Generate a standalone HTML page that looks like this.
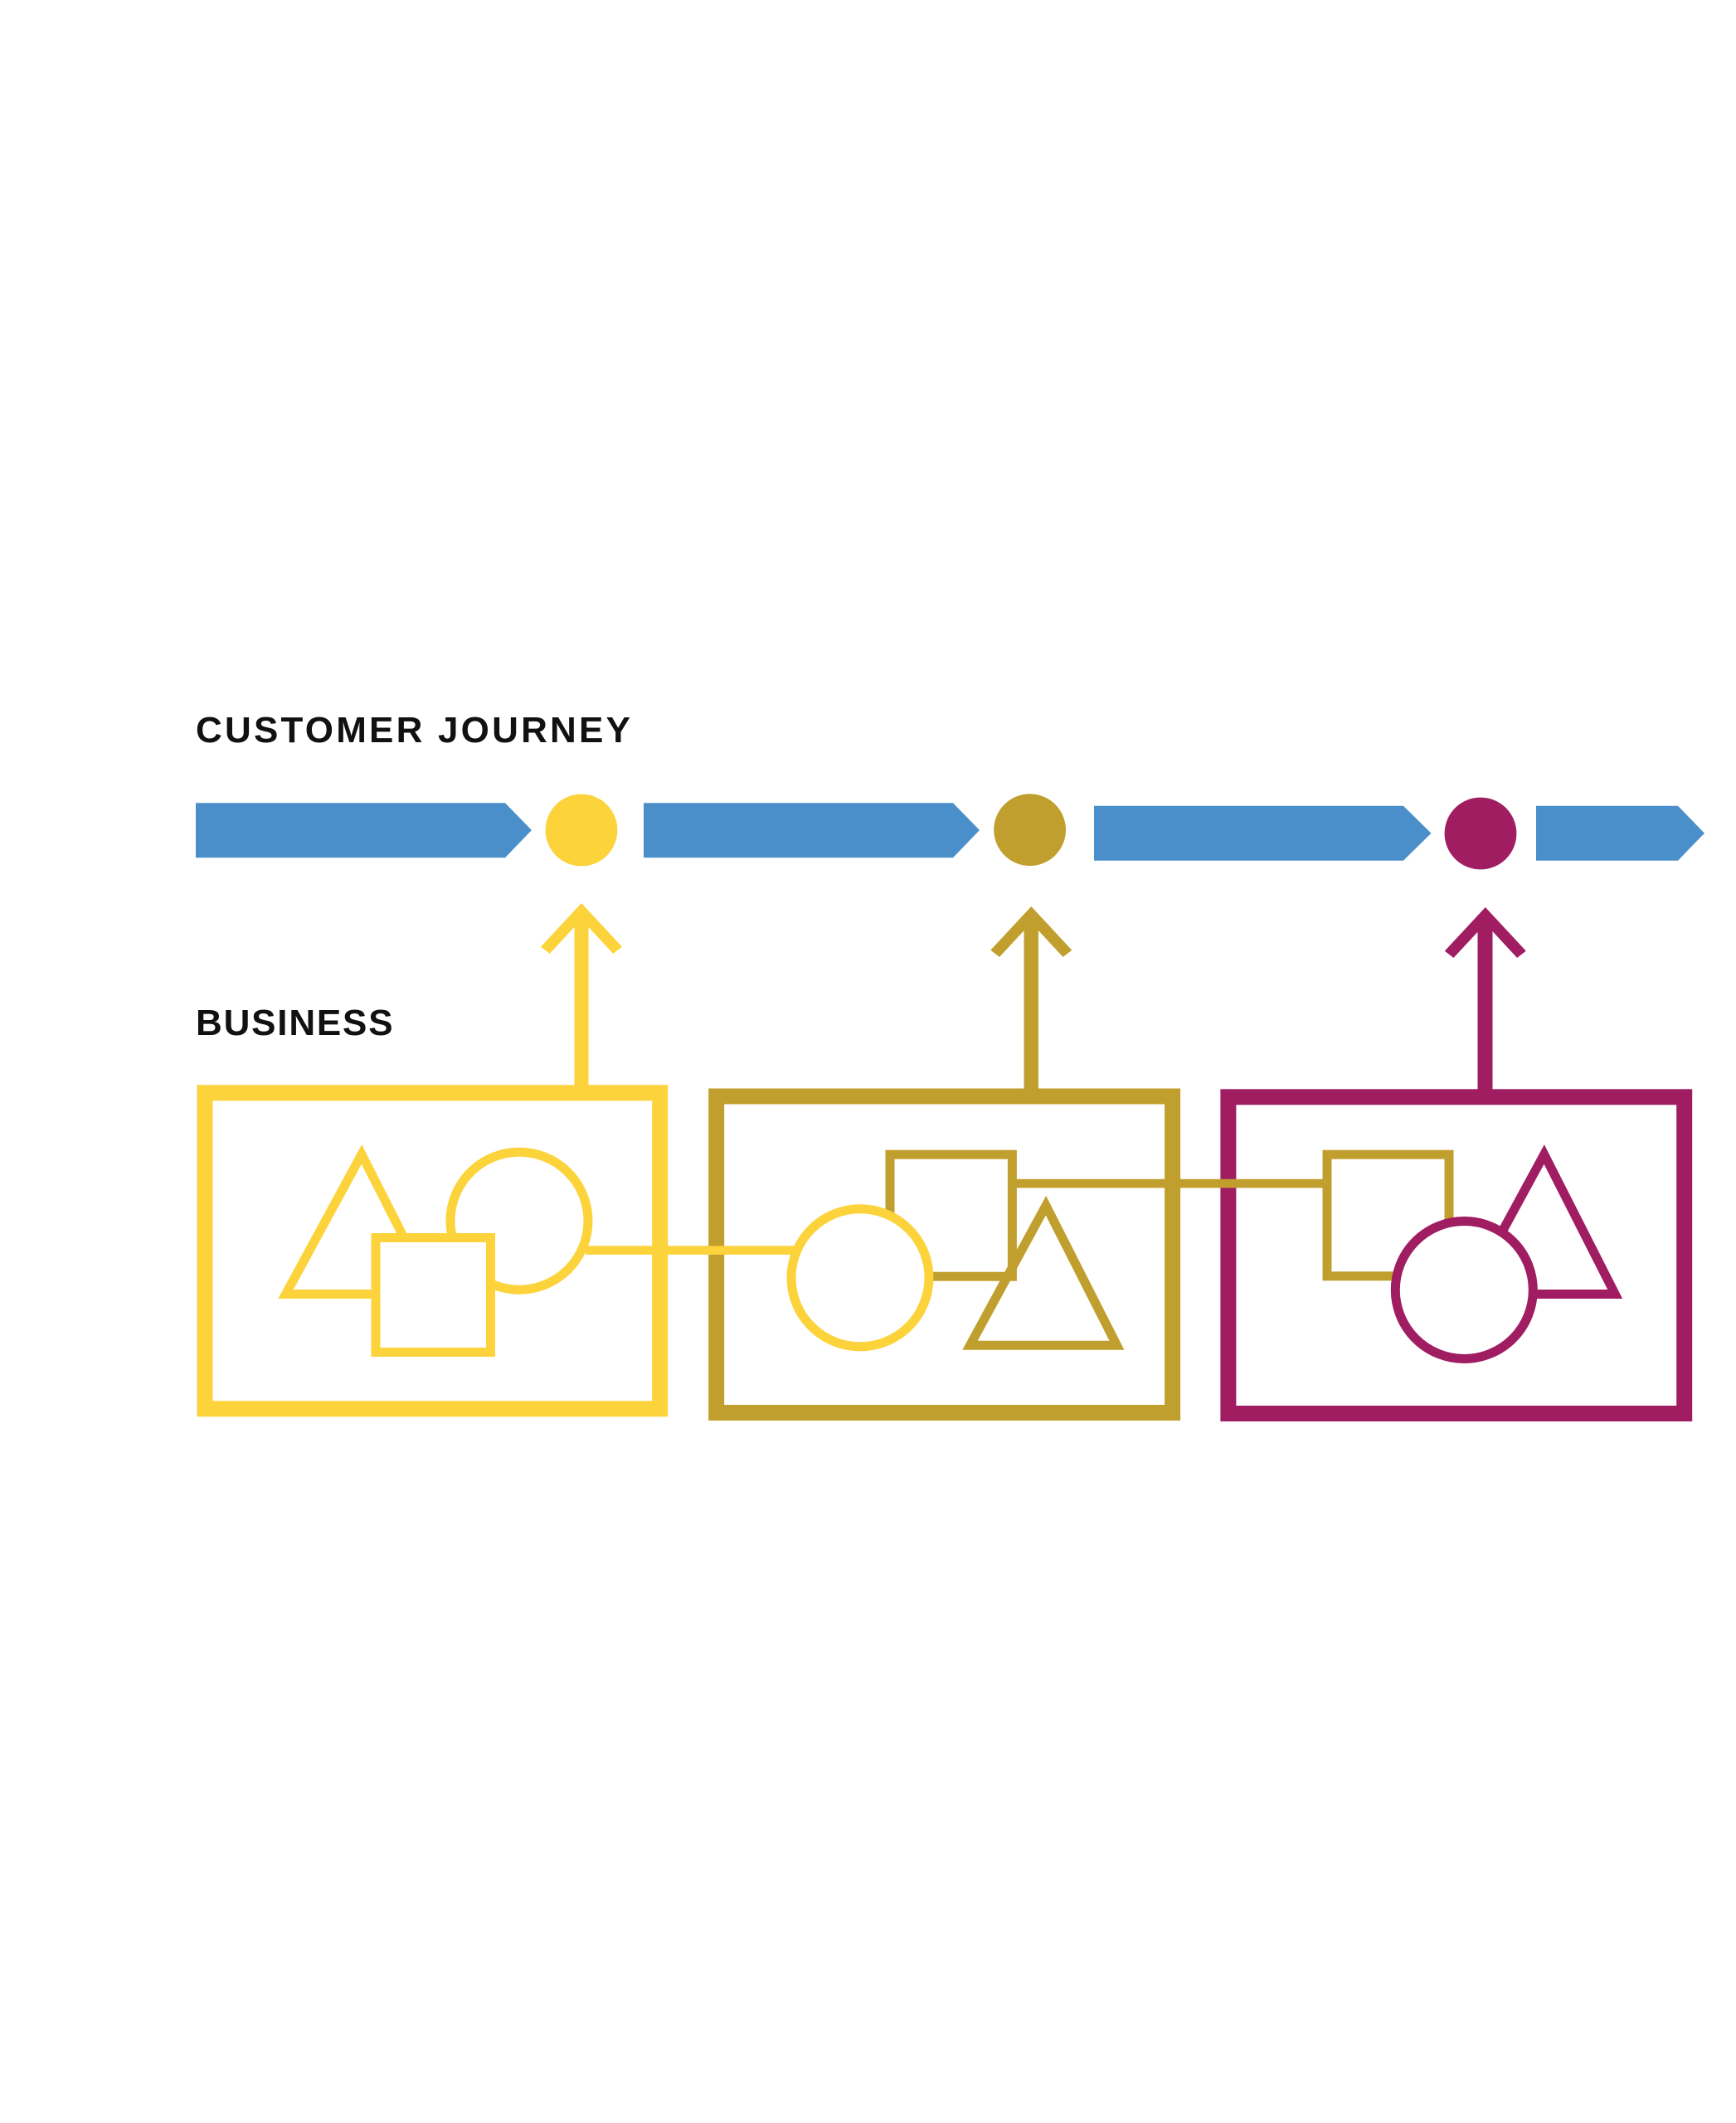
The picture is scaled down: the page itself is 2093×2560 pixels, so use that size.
<!DOCTYPE html>
<html>
<head>
<meta charset="utf-8">
<style>
html,body{margin:0;padding:0;background:#ffffff;}
svg{display:block;}
</style>
</head>
<body>
<svg width="2093" height="2560" viewBox="0 0 2093 2560" xmlns="http://www.w3.org/2000/svg">
<rect x="0" y="0" width="2093" height="2560" fill="#ffffff"/>

<!-- Labels -->
<text x="236" y="895" font-family="'Liberation Sans', Arial, sans-serif" font-weight="bold" font-size="44" letter-spacing="3.2" fill="#111111">CUSTOMER JOURNEY</text>
<text x="236" y="1248" font-family="'Liberation Sans', Arial, sans-serif" font-weight="bold" font-size="44" letter-spacing="1.8" fill="#111111">BUSINESS</text>

<!-- Journey bars -->
<g fill="#4B8FCA">
<polygon points="236,968.3 609,968.3 641,1001 609,1034.3 236,1034.3"/>
<polygon points="776,968.3 1149,968.3 1181,1001 1149,1034.3 776,1034.3"/>
<polygon points="1319,971.7 1692,971.7 1725.5,1004.7 1692,1037.7 1319,1037.7"/>
<polygon points="1852,971.7 2023,971.7 2055,1004.7 2023,1037.7 1852,1037.7"/>
</g>

<!-- Journey dots -->
<circle cx="701" cy="1001" r="43.4" fill="#FCD33B"/>
<circle cx="1241.6" cy="1000.7" r="43.4" fill="#C19F2E"/>
<circle cx="1785" cy="1005" r="43.4" fill="#A01D62"/>

<!-- Arrows -->
<g fill="#FCD33B">
<rect x="692.5" y="1100" width="17" height="212"/>
<polygon points="701,1089 750,1141.7 739.3,1150 701,1108.8 662.7,1150 652,1141.7"/>
</g>
<g fill="#C19F2E">
<rect x="1234.5" y="1104" width="17.5" height="212"/>
<polygon points="1243.3,1093 1292.3,1145.7 1281.6,1154 1243.3,1112.8 1205,1154 1194.3,1145.7"/>
</g>
<g fill="#A01D62">
<rect x="1781.5" y="1105" width="18" height="212"/>
<polygon points="1790.8,1094 1839.8,1146.7 1829.1,1155 1790.8,1113.8 1752.5,1155 1741.8,1146.7"/>
</g>

<!-- Box 1 (yellow) -->
<rect x="247" y="1317.8" width="548.7" height="381" fill="none" stroke="#FCD33B" stroke-width="19"/>
<polygon points="436,1392 344.5,1560.5 521.5,1560.5" fill="#ffffff" stroke="#FCD33B" stroke-width="11" stroke-linejoin="miter"/>
<circle cx="626" cy="1472.2" r="83" fill="#ffffff" stroke="#FCD33B" stroke-width="11"/>
<rect x="453" y="1492.5" width="138.5" height="138" fill="#ffffff" stroke="#FCD33B" stroke-width="11"/>

<!-- Box 2 (olive) -->
<rect x="863.7" y="1322" width="549.9" height="381.5" fill="none" stroke="#C19F2E" stroke-width="19"/>
<rect x="1073" y="1392.2" width="147.4" height="147" fill="#ffffff" stroke="#C19F2E" stroke-width="11"/>
<polygon points="1261,1453.7 1169.5,1622.2 1346.5,1622.2" fill="none" stroke="#C19F2E" stroke-width="11" stroke-linejoin="miter"/>
<circle cx="1037" cy="1540.8" r="83" fill="#ffffff" stroke="#FCD33B" stroke-width="11"/>

<!-- Box 3 (magenta) -->
<rect x="1480.9" y="1322.8" width="549.8" height="381.7" fill="none" stroke="#A01D62" stroke-width="19"/>
<rect x="1600" y="1392.2" width="147" height="146.6" fill="#ffffff" stroke="#C19F2E" stroke-width="11"/>
<polygon points="1861.7,1392 1770.2,1560.5 1947.2,1560.5" fill="#ffffff" stroke="#A01D62" stroke-width="11" stroke-linejoin="miter"/>
<circle cx="1765.3" cy="1555.5" r="83" fill="#ffffff" stroke="#A01D62" stroke-width="11"/>

<!-- Connectors (on top of box borders) -->
<rect x="706" y="1502.3" width="251" height="10.6" fill="#FCD33B"/>
<rect x="1225" y="1421.8" width="370" height="10.6" fill="#C19F2E"/>
</svg>
</body>
</html>
